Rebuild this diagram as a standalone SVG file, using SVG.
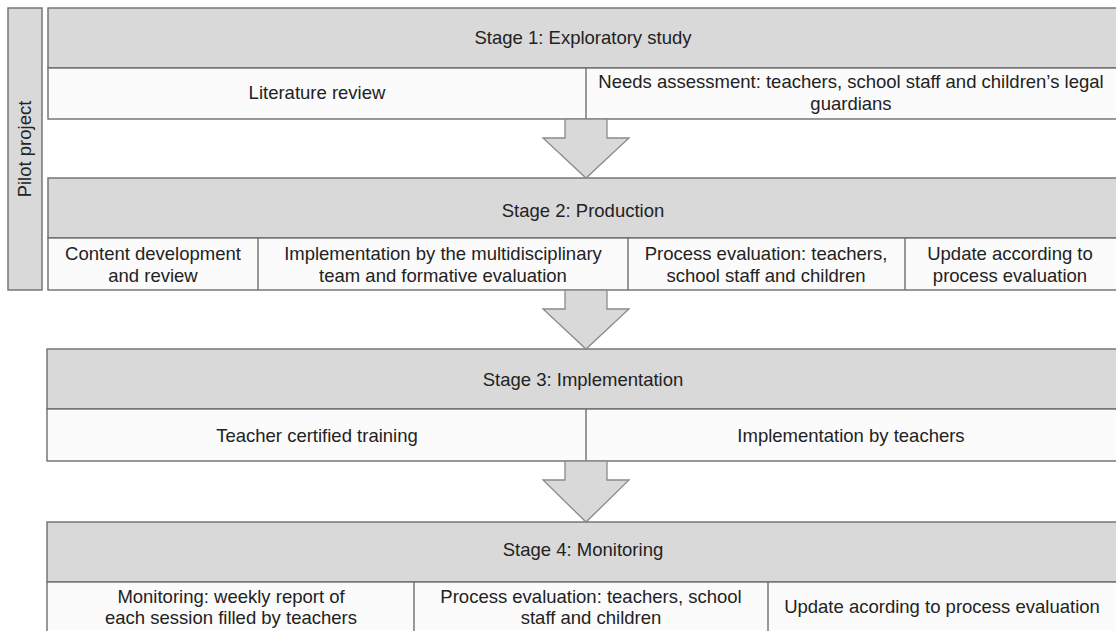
<svg xmlns="http://www.w3.org/2000/svg" width="1116" height="631" viewBox="0 0 1116 631">
<style>
.hdr{fill:#d9d9d9;stroke:#6e6e6e;stroke-width:1.4}
.sub{fill:#fbfbfb;stroke:#6e6e6e;stroke-width:1.4}
.div{stroke:#6e6e6e;stroke-width:1.4}
.arr{fill:#d9d9d9;stroke:#8a8a8a;stroke-width:1.3}
text{font-family:"Liberation Sans",Arial,sans-serif;font-size:18.5px;fill:#222;text-anchor:middle}
</style>
<rect width="1116" height="631" fill="#fff"/>
<g id="pilot">
<rect class="hdr" x="8" y="8" width="34" height="282"/>
<text transform="translate(31,149) rotate(-90)">Pilot project</text>
</g>
<g id="stage1">
<rect class="hdr" x="48" y="8" width="1075" height="60"/>
<text x="583" y="44">Stage 1: Exploratory study</text>
<rect class="sub" x="48" y="68" width="1075" height="51"/>
<line class="div" x1="586" y1="68" x2="586" y2="119"/>
<text x="317" y="99">Literature review</text>
<text x="851" y="88">Needs assessment: teachers, school staff and children’s legal</text>
<text x="851" y="110">guardians</text>
</g>
<g id="stage2">
<rect class="hdr" x="48" y="178" width="1075" height="60"/>
<text x="583" y="217">Stage 2: Production</text>
<rect class="sub" x="48" y="238" width="1075" height="52"/>
<line class="div" x1="258" y1="238" x2="258" y2="290"/>
<line class="div" x1="628" y1="238" x2="628" y2="290"/>
<line class="div" x1="905" y1="238" x2="905" y2="290"/>
<text x="153" y="260">Content development</text>
<text x="153" y="282">and review</text>
<text x="443" y="260">Implementation by the multidisciplinary</text>
<text x="443" y="282">team and formative evaluation</text>
<text x="766" y="260">Process evaluation: teachers,</text>
<text x="766" y="282">school staff and children</text>
<text x="1010" y="260">Update according to</text>
<text x="1010" y="282">process evaluation</text>
</g>
<g id="stage3">
<rect class="hdr" x="47" y="349" width="1076" height="60"/>
<text x="583" y="386">Stage 3: Implementation</text>
<rect class="sub" x="47" y="409" width="1076" height="52"/>
<line class="div" x1="586" y1="409" x2="586" y2="461"/>
<text x="317" y="442">Teacher certified training</text>
<text x="851" y="442">Implementation by teachers</text>
</g>
<g id="stage4">
<rect class="hdr" x="47" y="522" width="1076" height="60"/>
<text x="583" y="556">Stage 4: Monitoring</text>
<rect class="sub" x="47" y="582" width="1076" height="60"/>
<line class="div" x1="414" y1="582" x2="414" y2="642"/>
<line class="div" x1="768" y1="582" x2="768" y2="642"/>
<text x="231" y="603">Monitoring: weekly report of</text>
<text x="231" y="624">each session filled by teachers</text>
<text x="591" y="603">Process evaluation: teachers, school</text>
<text x="591" y="624">staff and children</text>
<text x="942" y="613">Update acording to process evaluation</text>
</g>
<g id="connectors">
<polygon class="arr" points="565,119 607,119 607,138 629,138 586,178 543,138 565,138"/>
<polygon class="arr" points="565,290 607,290 607,309 629,309 586,349 543,309 565,309"/>
<polygon class="arr" points="565,461 607,461 607,480 629,480 586,522 543,480 565,480"/>
</g>
</svg>
